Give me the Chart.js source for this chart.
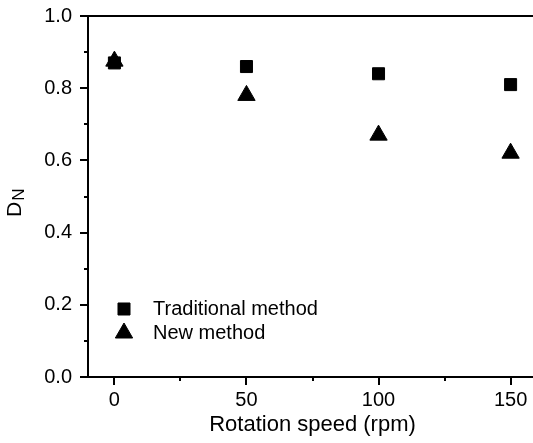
<!DOCTYPE html>
<html>
<head>
<meta charset="utf-8">
<script src="https://cdn.jsdelivr.net/npm/chart.js@4/dist/chart.umd.min.js"></script>
<style>
  html, body { margin: 0; padding: 0; background: #fff; overflow: hidden; }
  #wrap { width: 537px; height: 443px; }
</style>
</head>
<body>
<div id="wrap"><canvas id="dnChart" width="537" height="443"></canvas></div>
<script>
// values
const speeds = [0, 50, 100, 150];
const traditionalDN = [0.87, 0.86, 0.84, 0.81];
const newDN = [0.875, 0.78, 0.67, 0.62];
const seriesNames = ["Traditional method", "New method"];

const xMajorTicks = [0, 50, 100, 150];
const xMinorTicks = [25, 75, 125];
const yMajorTicks = [0, 0.2, 0.4, 0.6, 0.8, 1.0];
const yMinorTicks = [0.1, 0.3, 0.5, 0.7, 0.9];

const FONT = "'Liberation Sans', Arial, sans-serif";

// keep the plot box where the reference has it
const noScalePadding = (s) => {
  s.paddingTop = 0;
  s.paddingBottom = 0;
  s.paddingLeft = 0;
  s.paddingRight = 0;
};

// minor/major ticks + top frame line
const frameTicks = {
  id: "frameTicks",
  afterDraw(chart) {
    const { ctx, chartArea: ca, scales } = chart;
    ctx.save();
    ctx.strokeStyle = "#000";
    ctx.lineWidth = 2;
    ctx.beginPath();
    ctx.moveTo(ca.left - 8, Math.round(ca.top));
    ctx.lineTo(ca.right + 2, Math.round(ca.top));
    ctx.stroke();

    const tick = (list, len, axis) => {
      list.forEach((v) => {
        ctx.beginPath();
        if (axis === "x") {
          const px = Math.round(scales.x.getPixelForValue(v));
          ctx.moveTo(px, ca.bottom);
          ctx.lineTo(px, ca.bottom + len);
        } else {
          const py = Math.round(scales.y.getPixelForValue(v));
          ctx.moveTo(ca.left, py);
          ctx.lineTo(ca.left - len, py);
        }
        ctx.stroke();
      });
    };
    tick(xMajorTicks, 8, "x");
    tick(xMinorTicks, 4, "x");
    tick(yMajorTicks, 8, "y");
    tick(yMinorTicks, 4, "y");
    ctx.restore();
  }
};

// y title with subscript: D_N
const yTitle = {
  id: "yTitle",
  afterDraw(chart) {
    const ctx = chart.ctx;
    ctx.save();
    ctx.translate(21, 217);
    ctx.rotate(-Math.PI / 2);
    ctx.fillStyle = "#000";
    ctx.textBaseline = "alphabetic";
    ctx.textAlign = "left";
    ctx.font = "21px " + FONT;
    ctx.fillText("D", 0, 0);
    const w = ctx.measureText("D").width;
    ctx.font = "17px " + FONT;
    ctx.fillText("N", w + 1, 3);
    ctx.restore();
  }
};

// legend inside the plot, lower left
const innerLegend = {
  id: "innerLegend",
  afterDraw(chart) {
    const ctx = chart.ctx;
    const rows = [309, 333];
    ctx.save();
    chart.data.datasets.forEach((ds, i) => {
      const y = rows[i];
      ctx.fillStyle = "#000";
      ctx.strokeStyle = "#000";
      ctx.lineWidth = 1;
      Chart.helpers.drawPoint(ctx, {
        pointStyle: ds.pointStyle,
        radius: ds.pointRadius,
        rotation: 0,
        borderWidth: 1
      }, 124, y);
      ctx.font = "20px " + FONT;
      ctx.textBaseline = "middle";
      ctx.textAlign = "left";
      ctx.fillText(ds.label, 153, y);
    });
    ctx.restore();
  }
};

new Chart(document.getElementById("dnChart"), {
  type: "scatter",
  data: {
    datasets: [
      {
        label: seriesNames[0],
        data: speeds.map((s, i) => ({ x: s, y: traditionalDN[i] })),
        pointStyle: "rect",
        pointRadius: 8.5,
        backgroundColor: "#000",
        borderColor: "#000",
        borderWidth: 1
      },
      {
        label: seriesNames[1],
        data: speeds.map((s, i) => ({ x: s, y: newDN[i] })),
        pointStyle: "triangle",
        pointRadius: 10,
        backgroundColor: "#000",
        borderColor: "#000",
        borderWidth: 1
      }
    ]
  },
  options: {
    responsive: false,
    animation: false,
    layout: { autoPadding: false, padding: { top: 16, right: 0, bottom: 0, left: 0 } },
    plugins: { legend: { display: false }, tooltip: { enabled: false } },
    scales: {
      x: {
        type: "linear",
        min: -10,
        max: 160,
        afterBuildTicks: (s) => { s.ticks = xMajorTicks.map((v) => ({ value: v })); },
        afterFit: (s) => { s.height = 66; noScalePadding(s); },
        grid: { display: false, drawTicks: false },
        border: { display: true, color: "#000", width: 2 },
        ticks: { color: "#000", font: { family: FONT, size: 20 }, padding: 11, maxRotation: 0 },
        title: {
          display: true,
          text: "Rotation speed (rpm)",
          color: "#000",
          font: { family: FONT, size: 22 },
          padding: { top: 0, bottom: 5 }
        }
      },
      y: {
        min: 0,
        max: 1,
        afterBuildTicks: (s) => { s.ticks = yMajorTicks.map((v) => ({ value: v })); },
        afterFit: (s) => { s.width = 88; noScalePadding(s); },
        grid: { display: false, drawTicks: false },
        border: { display: true, color: "#000", width: 2 },
        ticks: {
          color: "#000",
          font: { family: FONT, size: 20 },
          padding: 16,
          callback: (v) => Number(v).toFixed(1)
        }
      }
    }
  },
  plugins: [frameTicks, yTitle, innerLegend]
});
</script>
</body>
</html>
